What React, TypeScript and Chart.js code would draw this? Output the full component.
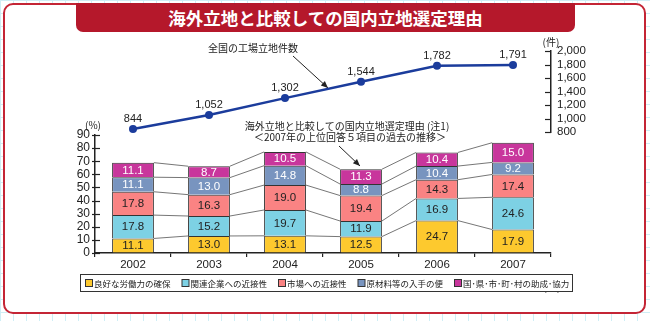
import React, { useEffect, useRef } from 'react';
import { Chart, registerables } from 'chart.js';

Chart.register(...registerables);

// ---------- data ----------
const years = ['2002', '2003', '2004', '2005', '2006', '2007'];
const labor = [11.1, 13.0, 13.1, 12.5, 24.7, 17.9];
const related = [17.8, 15.2, 19.7, 11.9, 16.9, 24.6];
const market = [17.8, 16.3, 19.0, 19.4, 14.3, 17.4];
const materials = [11.1, 13.0, 14.8, 8.8, 10.4, 9.2];
const support = [11.1, 8.7, 10.5, 11.3, 10.4, 15.0];
const siteCounts = [844, 1052, 1302, 1544, 1782, 1791];
const seriesNames = [
  '良好な労働力の確保',
  '関連企業への近接性',
  '市場への近接性',
  '原材料等の入手の便',
  '国･県･市･町･村の助成･協力',
];
const titleText = '海外立地と比較しての国内立地選定理由';
const lineNote = '全国の工場立地件数';
const barNote1 = '海外立地と比較しての国内立地選定理由 (注1)';
const barNote2 = '＜2007年の上位回答５項目の過去の推移＞';

// ---------- styles ----------
const NUM = '"Liberation Sans", Arial, "Noto Sans CJK JP", sans-serif';
const JP = '"Noto Sans CJK JP", "Noto Sans", sans-serif';
const INK = '#222';
const colors = ['#fdc92e', '#7dd1e4', '#fa8383', '#7894bf', '#c8369c'];
const labelColors = ['#222', '#222', '#222', '#ffffff', '#ffffff'];
const LINE_COLOR = '#1b3c9c';

function arrow(ctx: CanvasRenderingContext2D, x1: number, y1: number, x2: number, y2: number) {
  ctx.save();
  ctx.strokeStyle = INK;
  ctx.fillStyle = INK;
  ctx.lineWidth = 1;
  ctx.beginPath();
  ctx.moveTo(x1, y1);
  ctx.lineTo(x2, y2);
  ctx.stroke();
  const a = Math.atan2(y2 - y1, x2 - x1);
  const L = 7;
  const w = 3;
  ctx.beginPath();
  ctx.moveTo(x2, y2);
  ctx.lineTo(x2 - L * Math.cos(a) + w * Math.sin(a), y2 - L * Math.sin(a) - w * Math.cos(a));
  ctx.lineTo(x2 - L * Math.cos(a) - w * Math.sin(a), y2 - L * Math.sin(a) + w * Math.cos(a));
  ctx.closePath();
  ctx.fill();
  ctx.restore();
}

const connectorPlugin = {
  id: 'connectors',
  afterDatasetsDraw(chart: any) {
    const ctx = chart.ctx;
    ctx.save();
    ctx.strokeStyle = '#666';
    ctx.lineWidth = 0.9;
    chart.data.datasets.forEach((_: any, i: number) => {
      const meta = chart.getDatasetMeta(i);
      for (let j = 0; j < meta.data.length - 1; j++) {
        const a = meta.data[j].getProps(['x', 'y', 'width'], true);
        const b = meta.data[j + 1].getProps(['x', 'y', 'width'], true);
        ctx.beginPath();
        ctx.moveTo(a.x + a.width / 2, a.y);
        ctx.lineTo(b.x - b.width / 2, b.y);
        ctx.stroke();
      }
    });
    ctx.restore();
  },
};

const barLabelPlugin = {
  id: 'barLabels',
  afterDatasetsDraw(chart: any) {
    const ctx = chart.ctx;
    ctx.save();
    ctx.textAlign = 'center';
    ctx.textBaseline = 'middle';
    ctx.font = `11.5px ${NUM}`;
    chart.data.datasets.forEach((ds: any, i: number) => {
      const meta = chart.getDatasetMeta(i);
      ctx.fillStyle = labelColors[i];
      meta.data.forEach((bar: any, j: number) => {
        const p = bar.getProps(['x', 'y', 'base'], true);
        ctx.fillText(Number(ds.data[j]).toFixed(1), p.x, (p.y + p.base) / 2 + 0.5);
      });
    });
    ctx.restore();
  },
};

const barDecorPlugin = {
  id: 'barDecor',
  afterDraw(chart: any) {
    const ctx = chart.ctx;
    const y = chart.scales.y;
    const x = chart.scales.x;
    ctx.save();
    // y-axis crossing ticks
    ctx.strokeStyle = INK;
    ctx.lineWidth = 1.2;
    y.ticks.forEach((_: any, i: number) => {
      const py = Math.round(y.getPixelForTick(i)) + 0.5;
      ctx.beginPath();
      ctx.moveTo(x.left - 3, py);
      ctx.lineTo(x.left + 5, py);
      ctx.stroke();
    });
    // unit labels
    ctx.fillStyle = INK;
    ctx.textAlign = 'center';
    ctx.textBaseline = 'middle';
    ctx.font = `10px ${JP}`;
    ctx.fillText('(%)', x.left - 2, y.top - 10);
    ctx.fillText('(年)', x.right + 1, x.bottom - 6 + 20);
    // notes
    ctx.fillText(lineNote, 253, 48);
    ctx.fillText(barNote1, 347, 126);
    ctx.fillText(barNote2, 350, 137);
    arrow(ctx, 293, 56, 328, 88);
    arrow(ctx, 339, 146, 360, 166);
    // legend
    const lx = 80.5, ly = 274.5, lw = 492, lh = 17;
    ctx.fillStyle = '#fff';
    ctx.fillRect(lx, ly, lw, lh);
    ctx.strokeStyle = '#333';
    ctx.lineWidth = 1;
    ctx.strokeRect(lx, ly, lw, lh);
    ctx.font = `8.5px ${JP}`;
    ctx.textAlign = 'left';
    let cx = 85;
    const cy = ly + lh / 2;
    seriesNames.forEach((name, i) => {
      ctx.fillStyle = colors[i];
      ctx.fillRect(cx + 0.5, cy - 3.5, 7, 7);
      ctx.strokeStyle = '#333';
      ctx.strokeRect(cx + 0.5, cy - 3.5, 7, 7);
      ctx.fillStyle = INK;
      ctx.fillText(name, cx + 9, cy + 0.5);
      cx += 9 + ctx.measureText(name).width + 11;
    });
    ctx.restore();
  },
};

const linePlugin = {
  id: 'lineDecor',
  afterDraw(chart: any) {
    const ctx = chart.ctx;
    const s = chart.scales.y;
    ctx.save();
    ctx.strokeStyle = INK;
    ctx.lineWidth = 1.2;
    s.ticks.forEach((_: any, i: number) => {
      const py = Math.round(s.getPixelForTick(i)) + 0.5;
      ctx.beginPath();
      ctx.moveTo(s.left - 6, py);
      ctx.lineTo(s.left, py);
      ctx.stroke();
    });
    ctx.fillStyle = INK;
    ctx.textAlign = 'center';
    ctx.textBaseline = 'middle';
    ctx.font = `10px ${JP}`;
    ctx.fillText('(件)', s.left, s.top - 9);
    ctx.font = `11px ${NUM}`;
    const meta = chart.getDatasetMeta(0);
    meta.data.forEach((pt: any, i: number) => {
      const p = pt.getProps(['x', 'y'], true);
      ctx.fillText(siteCounts[i].toLocaleString('en-US'), p.x, p.y - 10);
    });
    ctx.restore();
  },
};

export default function App() {
  const barRef = useRef<HTMLCanvasElement>(null);
  const lineRef = useRef<HTMLCanvasElement>(null);

  useEffect(() => {
    const series = [labor, related, market, materials, support];
    const bar = new Chart(barRef.current as HTMLCanvasElement, {
      type: 'bar',
      data: {
        labels: years,
        datasets: series.map((d, i) => ({
          label: seriesNames[i],
          data: d,
          backgroundColor: colors[i],
          borderColor: '#333',
          borderWidth: 1,
          categoryPercentage: 1,
          barPercentage: 0.55,
        })),
      },
      options: {
        animation: false,
        responsive: false,
        events: [],
        layout: { padding: { left: 0, right: 99, top: 135, bottom: 48 } },
        plugins: { legend: { display: false }, tooltip: { enabled: false } },
        scales: {
          x: {
            stacked: true,
            offset: true,
            grid: { offset: true, drawOnChartArea: false, drawTicks: true, tickLength: 4, color: INK, lineWidth: 1.2 },
            border: { color: INK, width: 1.5 },
            ticks: { color: INK, font: { family: NUM, size: 11.5 }, padding: 1, maxRotation: 0, autoSkip: false },
            afterFit: (s: any) => { s.height = 20; },
          },
          y: {
            stacked: true,
            min: 0,
            max: 90,
            ticks: { stepSize: 10, color: INK, font: { family: NUM, size: 12 }, padding: 5, autoSkip: false },
            grid: { drawOnChartArea: false, drawTicks: false },
            border: { color: INK, width: 1.5 },
            afterFit: (s: any) => { s.width = 95; },
          },
        },
      },
      plugins: [connectorPlugin, barLabelPlugin, barDecorPlugin],
    } as any);

    const line = new Chart(lineRef.current as HTMLCanvasElement, {
      type: 'line',
      data: {
        labels: years,
        datasets: [{
          data: siteCounts,
          borderColor: LINE_COLOR,
          backgroundColor: LINE_COLOR,
          borderWidth: 2.5,
          pointRadius: 4,
          pointBackgroundColor: LINE_COLOR,
          pointBorderWidth: 0,
          tension: 0,
          clip: false,
        }],
      },
      options: {
        animation: false,
        responsive: false,
        events: [],
        layout: { padding: { left: 95, right: 39, top: 51, bottom: 189 } },
        plugins: { legend: { display: false }, tooltip: { enabled: false } },
        scales: {
          x: { type: 'category', offset: true, display: false },
          y: {
            position: 'right',
            min: 800,
            max: 2000,
            ticks: {
              stepSize: 200,
              padding: 6,
              autoSkip: false,
              color: INK,
              font: { family: NUM, size: 11.5 },
              callback: (v: any) => Number(v).toLocaleString('en-US'),
            },
            grid: { drawOnChartArea: false, drawTicks: false },
            border: { color: INK, width: 1.5 },
            afterFit: (s: any) => { s.width = 60; },
          },
        },
      },
      plugins: [linePlugin],
    } as any);

    return () => {
      bar.destroy();
      line.destroy();
    };
  }, []);

  const paper: React.CSSProperties = {
    position: 'fixed',
    left: 0,
    top: 0,
    width: 650,
    height: 321,
    overflow: 'hidden',
    backgroundColor: '#ffffff',
    backgroundImage:
      'linear-gradient(to right, #cfeef5 1px, transparent 1px), linear-gradient(to bottom, #cfeef5 1px, transparent 1px)',
    backgroundSize: '13px 13px',
  };

  return (
    <div style={paper}>
      <div
        style={{
          position: 'absolute',
          left: 3,
          top: 3,
          width: 643,
          height: 311,
          boxSizing: 'border-box',
          border: '2px solid #c42535',
          borderRadius: 10,
          background: '#fff',
        }}
      />
      <div
        style={{
          position: 'absolute',
          left: 76,
          top: 3,
          width: 499,
          height: 29,
          background: '#b5182b',
          borderRadius: '0 0 7px 7px',
          color: '#fff',
          fontFamily: JP,
          fontWeight: 700,
          fontSize: 17.5,
          lineHeight: '29px',
          textAlign: 'center',
        }}
      >
        {titleText}
      </div>
      <canvas ref={barRef} width={650} height={321} style={{ position: 'absolute', left: 0, top: 0, display: 'block' }} />
      <canvas ref={lineRef} width={650} height={321} style={{ position: 'absolute', left: 0, top: 0, display: 'block' }} />
    </div>
  );
}
